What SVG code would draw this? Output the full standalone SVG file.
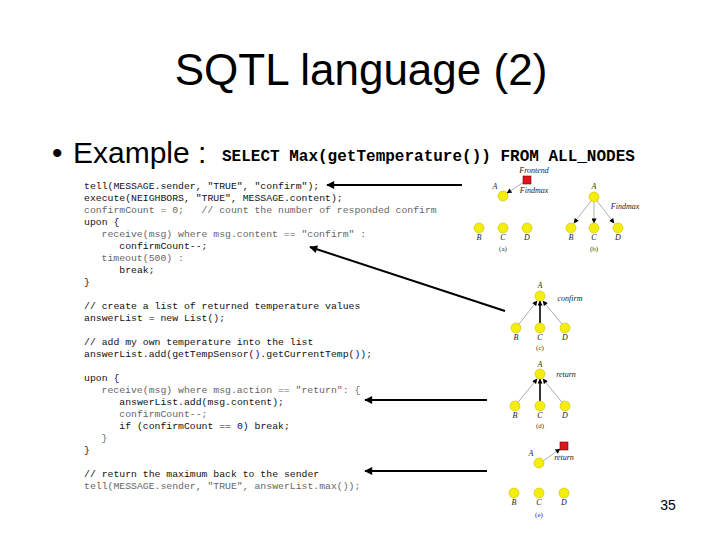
<svg xmlns="http://www.w3.org/2000/svg" width="720" height="540" viewBox="0 0 720 540">
<style>
.title{font-family:"Liberation Sans",Arial,sans-serif;font-size:44px;fill:#000}
.ex{font-family:"Liberation Sans",Arial,sans-serif;font-size:30px;fill:#000}
.sql{font-family:"Liberation Mono","Courier New",monospace;font-size:16px;font-weight:bold;fill:#000}
.code{font-family:"Liberation Mono","Courier New",monospace;font-size:9.8px;fill:#111}
.codel{font-family:"Liberation Mono","Courier New",monospace;font-size:9.8px;fill:#666}
.lbl{font-family:"Liberation Serif","Times New Roman",serif;font-style:italic;font-size:8px;fill:#222}
.cap{font-family:"Liberation Serif","Times New Roman",serif;font-size:7px;fill:#333}
.node{fill:#f5ee0c;stroke:#c9c000;stroke-width:0.6}
.sq{fill:#e0141a;stroke:#7a0000;stroke-width:0.6}
.carrow{stroke:#000;stroke-width:2;fill:none;marker-end:url(#big)}
.tarrow{stroke:#999;stroke-width:0.8;fill:none;marker-end:url(#small)}
.tarrowb{stroke:#000;stroke-width:1.6;fill:none;marker-end:url(#small)}
.pn{font-family:"Liberation Sans",Arial,sans-serif;font-size:14px;fill:#000}
</style>
<defs>
<marker id="big" viewBox="0 0 10 10" refX="9" refY="5" markerWidth="12" markerHeight="8" markerUnits="userSpaceOnUse" orient="auto"><path d="M0,0 L10,5 L0,10 z" fill="#000"/></marker>
<marker id="small" viewBox="0 0 10 10" refX="9" refY="5" markerWidth="6" markerHeight="5" markerUnits="userSpaceOnUse" orient="auto"><path d="M0,0 L10,5 L0,10 z" fill="#000"/></marker>
</defs>
<rect width="720" height="540" fill="#fff"/>

<g id="title"><text class="title" x="361" y="85" text-anchor="middle">SQTL language (2)</text></g>
<g id="example">
<text class="ex" x="52" y="163" font-size="24">•</text>
<text class="ex" x="73" y="163">Example :</text>
<text class="sql" x="222" y="161">SELECT Max(getTemperature()) FROM ALL_NODES</text>
</g>

<g id="code">
<text class="code" x="84" y="189">tell(MESSAGE.sender, "TRUE", "confirm");</text>
<text class="code" x="84" y="201">execute(NEIGHBORS, "TRUE", MESSAGE.content);</text>
<text class="codel" x="84" y="213" xml:space="preserve">confirmCount = 0;   // count the number of responded confirm</text>
<text class="code" x="84" y="225">upon {</text>
<text class="codel" x="101.6" y="237">receive(msg) where msg.content == "confirm" :</text>
<text class="code" x="119.3" y="249">confirmCount--;</text>
<text class="codel" x="101.6" y="261">timeout(500) :</text>
<text class="code" x="119.3" y="273">break;</text>
<text class="code" x="84" y="285">}</text>
<text class="code" x="84" y="309">// create a list of returned temperature values</text>
<text class="code" x="84" y="321">answerList = new List();</text>
<text class="code" x="84" y="345">// add my own temperature into the list</text>
<text class="code" x="84" y="357">answerList.add(getTempSensor().getCurrentTemp());</text>
<text class="code" x="84" y="381">upon {</text>
<text class="codel" x="101.6" y="393">receive(msg) where msg.action == "return": {</text>
<text class="code" x="119.3" y="405">answerList.add(msg.content);</text>
<text class="codel" x="119.3" y="417">confirmCount--;</text>
<text class="code" x="119.3" y="429">if (confirmCount == 0) break;</text>
<text class="codel" x="101.6" y="441">}</text>
<text class="code" x="84" y="453">}</text>
<text class="code" x="84" y="477">// return the maximum back to the sender</text>
<text class="codel" x="84" y="489">tell(MESSAGE.sender, "TRUE", answerList.max());</text>
</g>

<g id="connectors">
<line class="carrow" x1="462" y1="185" x2="327" y2="185"/>
<line class="carrow" x1="505" y1="311" x2="310" y2="247"/>
<line class="carrow" x1="487" y1="400" x2="365" y2="400"/>
<line class="carrow" x1="487" y1="471" x2="365" y2="471"/>
<line class="tarrow" x1="524" y1="182" x2="507" y2="193"/>
<line class="tarrow" x1="594" y1="197" x2="574" y2="223"/>
<line class="tarrow" x1="594" y1="197" x2="594" y2="223"/>
<line class="tarrow" x1="594" y1="197" x2="614" y2="223"/>
<line class="tarrow" x1="516" y1="328" x2="537" y2="301"/>
<line class="tarrowb" x1="540" y1="324" x2="540" y2="301"/>
<line class="tarrow" x1="565" y1="328" x2="543" y2="301"/>
<line class="tarrow" x1="515" y1="406" x2="537" y2="379"/>
<line class="tarrowb" x1="540" y1="402" x2="540" y2="379"/>
<line class="tarrow" x1="565" y1="406" x2="543" y2="379"/>
<line class="tarrow" x1="543" y1="461" x2="560" y2="449"/>
</g>

<g id="tree-a">
<text class="lbl" x="534" y="173" text-anchor="middle">Frontend</text>
<rect class="sq" x="523" y="176" width="8" height="8"/>
<text class="lbl" x="495" y="189" text-anchor="middle">A</text>
<circle class="node" cx="503" cy="196" r="5"/>
<text class="lbl" x="534" y="193" text-anchor="middle">Findmax</text>
<circle class="node" cx="479" cy="228" r="5"/>
<circle class="node" cx="503" cy="228" r="5"/>
<circle class="node" cx="527" cy="228" r="5"/>
<text class="lbl" x="479" y="240" text-anchor="middle">B</text>
<text class="lbl" x="503" y="240" text-anchor="middle">C</text>
<text class="lbl" x="527" y="240" text-anchor="middle">D</text>
<text class="cap" x="503" y="251" text-anchor="middle">(a)</text>
</g>

<g id="tree-b">
<text class="lbl" x="594" y="189" text-anchor="middle">A</text>
<circle class="node" cx="594" cy="197" r="5"/>
<text class="lbl" x="625" y="209" text-anchor="middle">Findmax</text>
<circle class="node" cx="571" cy="228" r="5"/>
<circle class="node" cx="594" cy="228" r="5"/>
<circle class="node" cx="618" cy="228" r="5"/>
<text class="lbl" x="571" y="240" text-anchor="middle">B</text>
<text class="lbl" x="594" y="240" text-anchor="middle">C</text>
<text class="lbl" x="618" y="240" text-anchor="middle">D</text>
<text class="cap" x="594" y="251" text-anchor="middle">(b)</text>
</g>

<g id="tree-c">
<text class="lbl" x="540" y="288" text-anchor="middle">A</text>
<circle class="node" cx="540" cy="296" r="5"/>
<text class="lbl" x="570" y="301" text-anchor="middle">confirm</text>
<circle class="node" cx="516" cy="328" r="5"/>
<circle class="node" cx="540" cy="328" r="5"/>
<circle class="node" cx="565" cy="328" r="5"/>
<text class="lbl" x="516" y="340" text-anchor="middle">B</text>
<text class="lbl" x="540" y="340" text-anchor="middle">C</text>
<text class="lbl" x="565" y="340" text-anchor="middle">D</text>
<text class="cap" x="540" y="350" text-anchor="middle">(c)</text>
</g>

<g id="tree-d">
<text class="lbl" x="540" y="367" text-anchor="middle">A</text>
<circle class="node" cx="540" cy="374" r="5"/>
<text class="lbl" x="566" y="377" text-anchor="middle">return</text>
<circle class="node" cx="515" cy="406" r="5"/>
<circle class="node" cx="540" cy="406" r="5"/>
<circle class="node" cx="565" cy="406" r="5"/>
<text class="lbl" x="515" y="418" text-anchor="middle">B</text>
<text class="lbl" x="540" y="418" text-anchor="middle">C</text>
<text class="lbl" x="565" y="418" text-anchor="middle">D</text>
<text class="cap" x="540" y="428" text-anchor="middle">(d)</text>
</g>

<g id="tree-e">
<rect class="sq" x="560" y="442" width="8" height="8"/>
<text class="lbl" x="531" y="456" text-anchor="middle">A</text>
<circle class="node" cx="539" cy="463" r="5"/>
<text class="lbl" x="564" y="460" text-anchor="middle">return</text>
<circle class="node" cx="514" cy="493" r="5"/>
<circle class="node" cx="539" cy="493" r="5"/>
<circle class="node" cx="564" cy="493" r="5"/>
<text class="lbl" x="514" y="505" text-anchor="middle">B</text>
<text class="lbl" x="539" y="505" text-anchor="middle">C</text>
<text class="lbl" x="564" y="505" text-anchor="middle">D</text>
<text class="cap" x="539" y="517" text-anchor="middle">(e)</text>
</g>

<g id="page"><text class="pn" x="668" y="510" text-anchor="middle">35</text></g>
</svg>
